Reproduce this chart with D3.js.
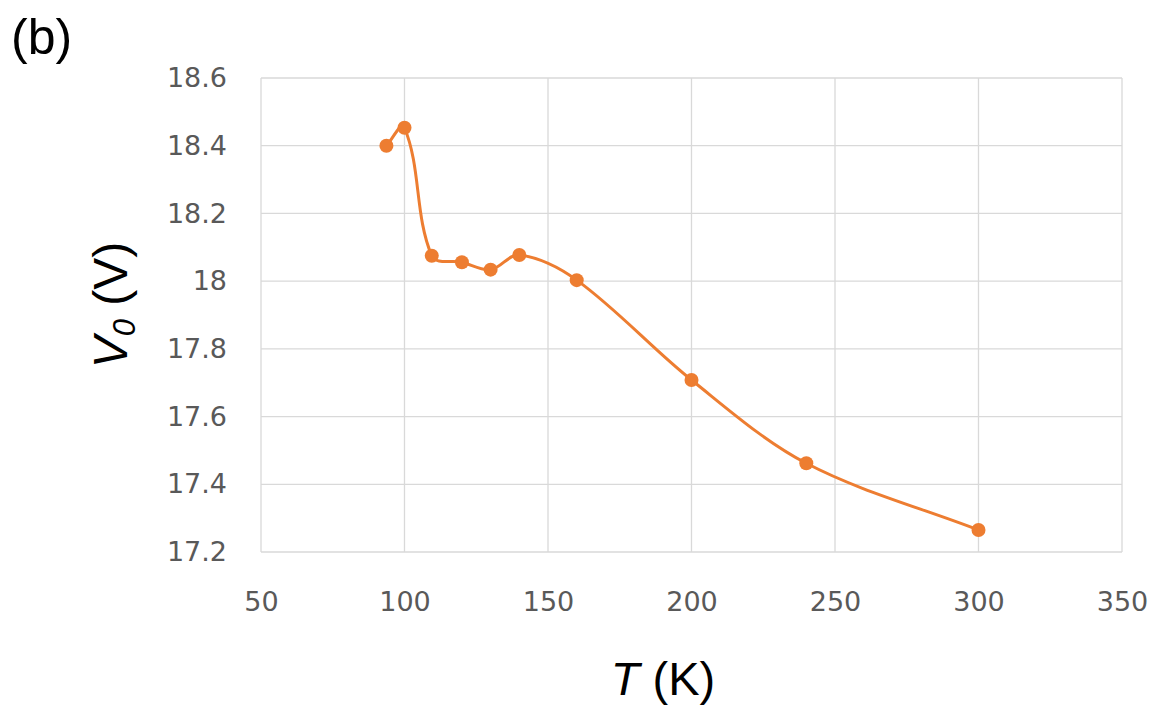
<!DOCTYPE html>
<html>
<head>
<meta charset="utf-8">
<script src="https://cdn.jsdelivr.net/npm/d3@7"></script>
<style>
  body { margin: 0; background: #fff; }
  #chart { width: 1161px; height: 709px; }
  .axis text { font-family: "DejaVu Sans", "Open Sans", sans-serif; fill: #595959; font-size: 27px; }
  .axis path, .axis line { stroke: none; }
  .title { font-family: "Liberation Sans", Arial, sans-serif; fill: #000; }
</style>
</head>
<body>
<div id="chart"></div>
<script>
// data
const temps = [93.7, 100, 109.5, 120, 130, 140, 160, 200, 240, 300];
const volts = [18.40, 18.453, 18.075, 18.056, 18.034, 18.077, 18.003, 17.708, 17.462, 17.265];
const xTicks = [50, 100, 150, 200, 250, 300, 350];
const yTicks = [17.2, 17.4, 17.6, 17.8, 18, 18.2, 18.4, 18.6];

const width = 1161;
const height = 709;
const margin = {top: 78, left: 261, right: 39, bottom: 157};

const canvas = d3.select("#chart")
    .append("svg")
    .attr("width", width)
    .attr("height", height);

const xScale = d3.scaleLinear()
    .domain([50, 350])
    .range([margin.left, width - margin.right]);

const yScale = d3.scaleLinear()
    .domain([17.2, 18.6])
    .range([height - margin.bottom, margin.top]);

/*
GRIDLINES
*/
canvas.append("g")
    .selectAll("line")
    .data(yTicks)
    .enter()
    .append("line")
    .attr("x1", margin.left)
    .attr("x2", width - margin.right)
    .attr("y1", d => yScale(d))
    .attr("y2", d => yScale(d))
    .attr("stroke", "#d9d9d9")
    .attr("stroke-width", 1.3);

canvas.append("g")
    .selectAll("line")
    .data(xTicks)
    .enter()
    .append("line")
    .attr("x1", d => xScale(d))
    .attr("x2", d => xScale(d))
    .attr("y1", margin.top)
    .attr("y2", height - margin.bottom)
    .attr("stroke", "#d9d9d9")
    .attr("stroke-width", 1.3);

/*
AXES
*/
canvas.append("g")
    .attr("class", "axis")
    .attr("transform", `translate(0,${height - margin.bottom})`)
    .call(d3.axisBottom(xScale).tickValues(xTicks).tickSize(0).tickPadding(40).tickFormat(d3.format("d")));

canvas.append("g")
    .attr("class", "axis")
    .attr("transform", `translate(${margin.left},0)`)
    .call(d3.axisLeft(yScale).tickValues(yTicks).tickSize(0).tickPadding(34).tickFormat(d => d3.format("~g")(d)));

/*
LABELS
*/
canvas.append("text")
    .attr("class", "title")
    .attr("x", 11)
    .attr("y", 54)
    .style("font-size", "50px")
    .text("(b)");

const xLabel = canvas.append("text")
    .attr("class", "title")
    .attr("x", 663)
    .attr("y", 695)
    .attr("text-anchor", "middle")
    .style("font-size", "47px");
xLabel.append("tspan").style("font-style", "italic").text("T");
xLabel.append("tspan").text(" (K)");

const yLabel = canvas.append("text")
    .attr("class", "title")
    .attr("transform", "translate(127,305) rotate(-90)")
    .attr("text-anchor", "middle")
    .style("font-size", "48px");
yLabel.append("tspan").style("font-style", "italic").text("V");
yLabel.append("tspan").style("font-style", "italic").style("font-size", "31px").attr("dy", 8).text("0");
yLabel.append("tspan").attr("dy", -8).text(" (V)");

/*
SMOOTHED LINE (spreadsheet style: tangent along neighbours, length from the segment)
*/
const px = temps.map((t, i) => [xScale(t), yScale(volts[i])]);

function smoothPath(p) {
    const path = d3.path();
    path.moveTo(p[0][0], p[0][1]);
    const tan = p.map((q, i) => {
        const a = p[Math.max(i - 1, 0)], b = p[Math.min(i + 1, p.length - 1)];
        const dx = b[0] - a[0], dy = b[1] - a[1];
        const len = Math.hypot(dx, dy) || 1;
        return [dx / len, dy / len];
    });
    for (let i = 0; i < p.length - 1; i++) {
        const L = Math.hypot(p[i + 1][0] - p[i][0], p[i + 1][1] - p[i][1]) / 3;
        path.bezierCurveTo(
            p[i][0] + tan[i][0] * L, p[i][1] + tan[i][1] * L,
            p[i + 1][0] - tan[i + 1][0] * L, p[i + 1][1] - tan[i + 1][1] * L,
            p[i + 1][0], p[i + 1][1]);
    }
    return path.toString();
}

canvas.append("path")
    .attr("d", smoothPath(px))
    .attr("fill", "none")
    .attr("stroke", "#ED7D31")
    .attr("stroke-width", 3);

canvas.selectAll("circle")
    .data(temps)
    .enter()
    .append("circle")
    .attr("cx", d => xScale(d))
    .attr("cy", (d, i) => yScale(volts[i]))
    .attr("r", 7)
    .attr("fill", "#ED7D31");
</script>
</body>
</html>
